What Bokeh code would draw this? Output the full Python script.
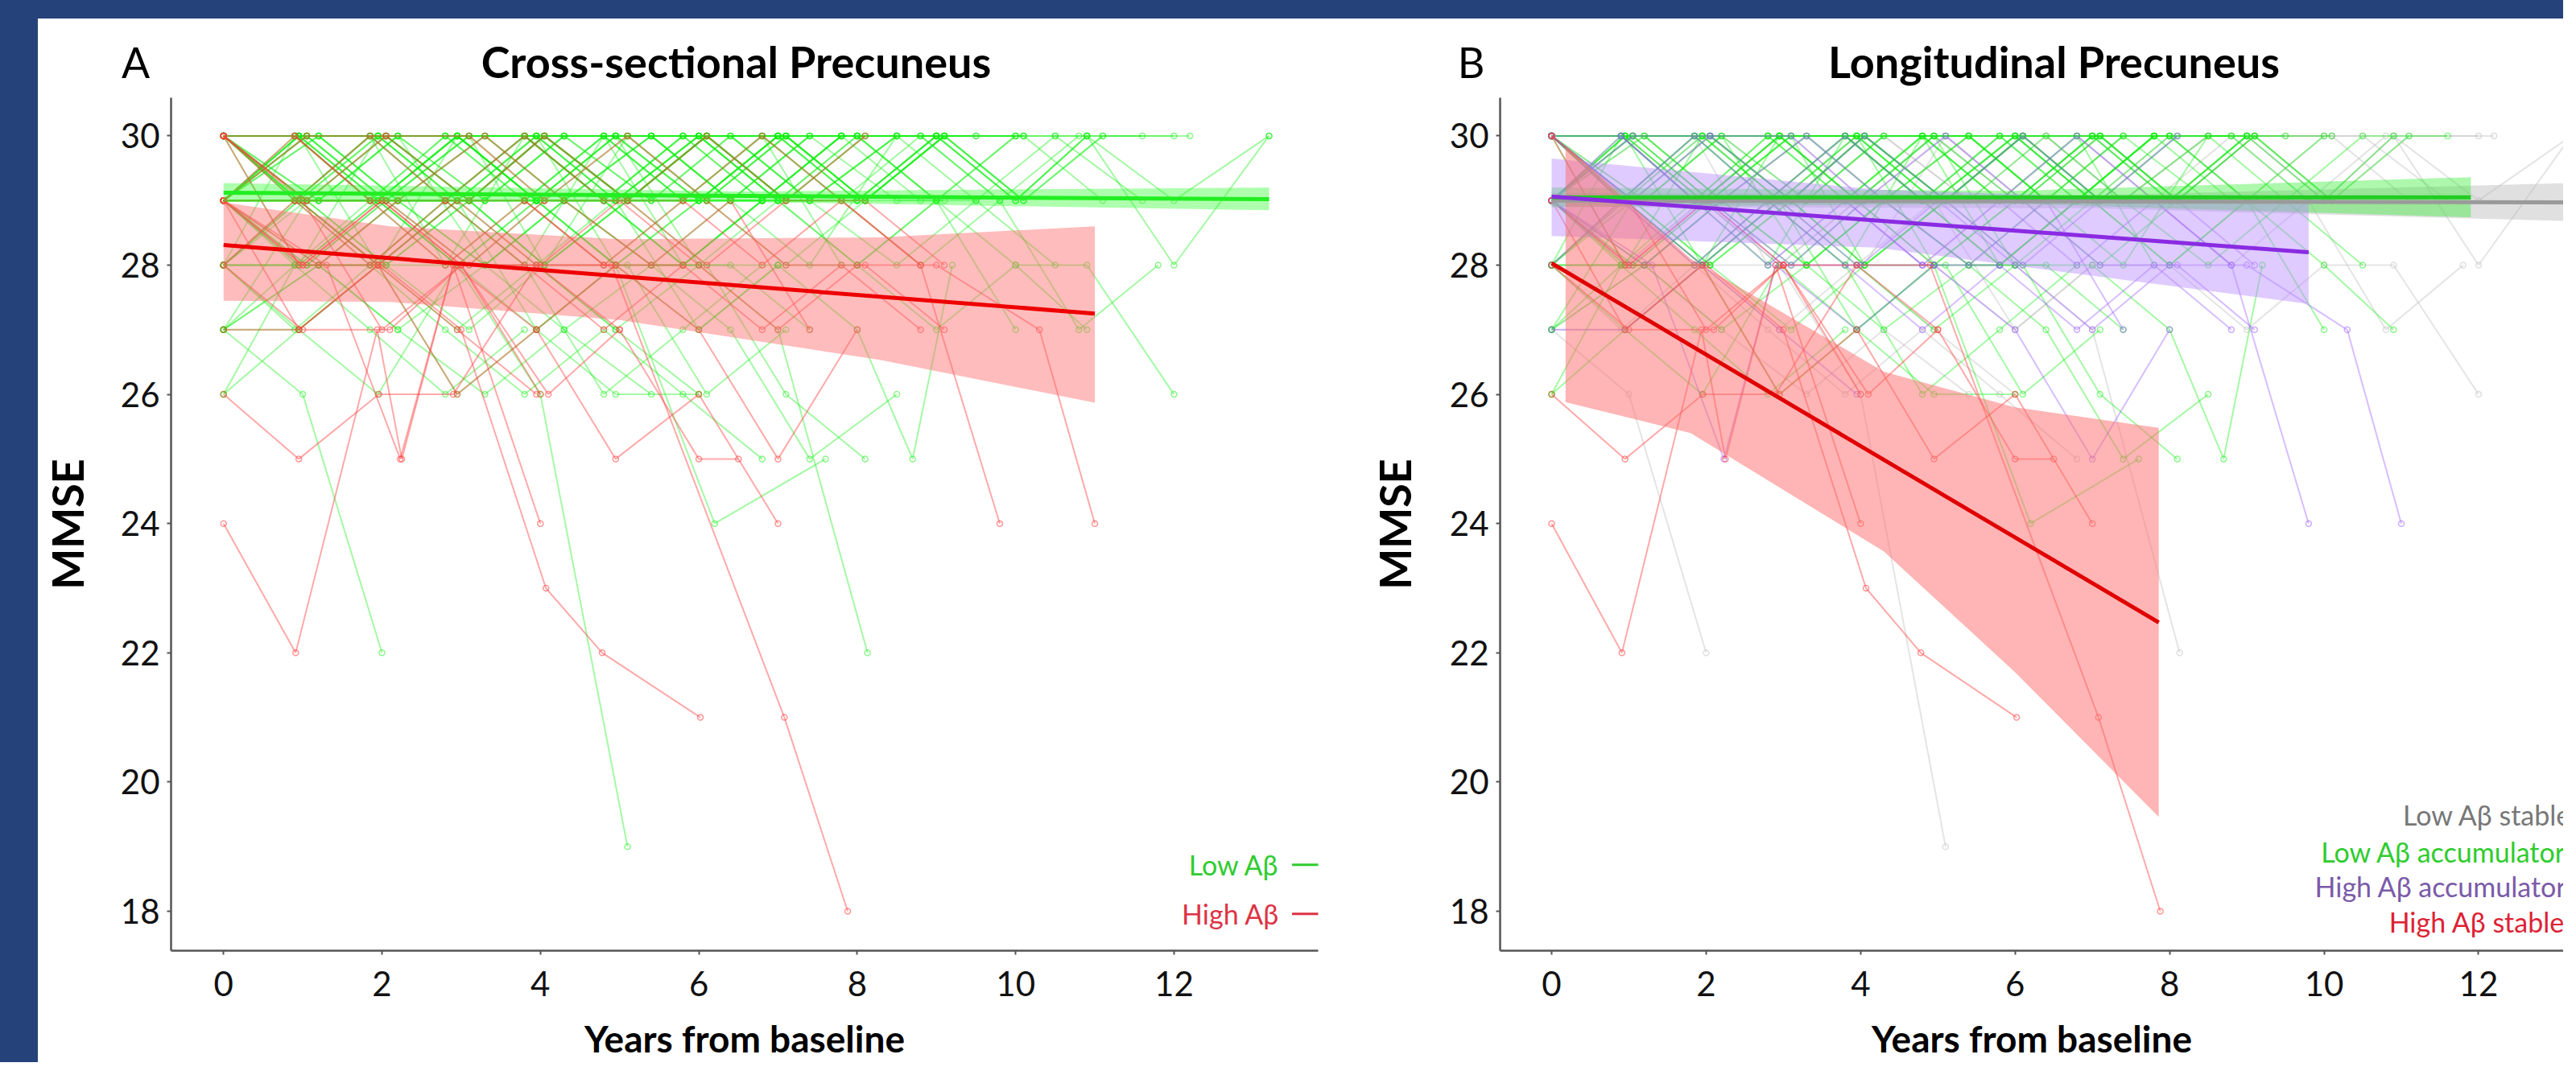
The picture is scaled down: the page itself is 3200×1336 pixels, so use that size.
from bokeh.plotting import figure
from bokeh.models import Range1d, FixedTicker, Label, Div
from bokeh.layouts import row, column
from bokeh.embed import file_html
from bokeh.resources import INLINE

# ---------------- data ----------------
# visit schedules (years from baseline)
SCHED_A = [0, 0.95, 1.95, 2.95, 3.95, 4.95, 6.0, 7.0, 8.0, 9.0, 10.0, 10.9, 12.0, 13.2]
SCHED_B = [0, 1.05, 2.05, 3.1, 4.05, 5.1, 6.1, 7.1, 8.1, 9.1, 10.1, 11.1, 12.2]
SCHED_C = [0, 0.9, 1.85, 2.8, 3.8, 4.8, 5.8, 6.8, 7.8, 8.8, 9.8, 10.8, 11.8]
SCHED_D = [0, 1.2, 2.2, 3.3, 4.3, 5.4, 6.4, 7.4, 8.5, 9.5, 10.5, 11.6, 12.6]
SCHEDULES = {"a": SCHED_A, "b": SCHED_B, "c": SCHED_C, "d": SCHED_D}

# Low Aβ accumulators: (schedule, MMSE per visit)
LOW_ACC_MMSE = [
    ("a", "30 30 29 30 29 30 30 29 30 29 30"), ("b", "29 30 30 29 30 29 29 30 29 30 29"),
    ("c", "30 29 30 30 30 29 30 30 28"), ("d", "29 28 29 30 29 28 29 29 30 29"),
    ("a", "28 29 28 29 27 28 28"), ("b", "30 30 30 29 30 30 30 29"),
    ("a", "29 30 29 30 30 29 30 29 28 29 28 27"), ("c", "26 28 27 26 27"),
    ("d", "29 29 30 29 29 30 29 28 30 30"), ("b", "30 29 29 30 30 29 30 30 29 30 30"),
    ("c", "28 30 29 29 28 30 29 29"), ("a", "29 30 30 30 29 29 30 30 30 29"),
    ("d", "30 30 29 29 30 30 29 30"), ("b", "27 29 28 27 28 28 26 27"),
    ("c", "29 29 29 30 30 30 29 29 30"), ("a", "30 28 30 29 30 28 29 30 29 30"),
    ("b", "28 28 29 28 29 29 28 26 25"), ("d", "29 30 29 29 30 30 29 30 29 29 30 30"),
    ("c", "30 30 30 30 29 30 29 30 30"), ("a", "26 27 26 28 27 26 26"),
    ("b", "29 28 28 29 28 29 30 29"), ("c", "30 29 30 29 30 29 30 29 30 30"),
    ("d", "27 28 29 28 27 28 27 25 26"), ("a", "29 30 28 29 29 28 29 29 28 29 27"),
    ("c", "28 29 29 28 30 29 28 29"), ("b", "30 30 29 30 30 29 30 29 30 30 29 30"),
    ("a", "29 29 28 30 29 30 28 29 29 30"), ("d", "30 29 30 28 29 29 30 29"),
    ("c", "29 30 30 29 29 30 30 29 30 30 29"), ("a", "30 30 30 30 30 29 29 30 30 30"),
    ("b", "28 29 30 29 28 29 29 28 29"), ("d", "29 29 29 28 29 30 29 29 28 29 28"),
    ("c", "27 28 28 29 28 26 27 28"), ("a", "30 29 29 30 30 30 29 30 29"),
    ("b", "29 30 29 30 28 29 30 30 29 29"), ("c", "30 30 29 30 29 30 28 29 30"),
    ("d", "28 28 27 28 29 28 28 27"), ("a", "29 29 30 29 30 29 30 29 29 30 29 30"),
    ("b", "30 29 28 29 30 29 29 30"), ("c", "29 28 29 29 30 29 28 29 30 29"),
]
# Low Aβ stable
LOW_STABLE_MMSE = [
    ("a", "30 30 30 29 30 30 29 30 30 30 29 30 30"), ("b", "29 30 29 29 30 29 30 29 29 30 29 30 30"),
    ("a", "28 29 28 28 29 28 27 28 28 27 28 28 26"), ("a", "30 29 30 30 29 30 30 29 30 30 29 30 28 30"),
    ("c", "29 29 30 28 29 29 28 29 29 28 29 27 28"), ("d", "30 30 29 30 29 30 30 29 30"),
    ("b", "29 28 29 29 28 30 29"), ("c", "28 27 28 27 26 27 26 25"),
    ("a", "30 29 29 30 29 30 29 30 30 29 30"), ("d", "27 28 27 26 27 26"),
    ("a", "29 30 29 30 29 29 30 30 29 30 30 30 29 30"), ("b", "30 30 30 29 29 30 30 30 29 30 30"),
    ("c", "29 29 28 29 29 28 29 30 29"), ("d", "30 29 30 30 30 29 30 29 30 30 30 29"),
    ("a", "28 28 29 28 28 29 27 28"), ("b", "29 29 30 30 29 29 30 29 30"),
    ("c", "30 30 29 29 30 29 30 30 29 30 29 30"), ("a", "27 27 28 27 28 27 26"),
    ("d", "29 30 30 29 30 29 29 30 30"), ("b", "30 29 29 29 30 30 29 30 29 30 30 29"),
]
# High Aβ accumulators
HIGH_ACC_MMSE = [
    ("c", "30 29 30 29 29 28 29 28 29 28 24"), ("a", "29 29 28 29 28 28 27 25 27"),
    ("b", "30 29 29 28 29 30 29 28 28 27"), ("c", "29 30 29 28 29 28 28"),
    ("c", "28 29 28 29 28 27 28 27 28 27"), ("a", "27 27 28 27 26"),
    ("b", "29 30 30 29 30 29 30 29 30"), ("c", "30 30 29 29 30 29 29 30 29 28"),
    ("d", "29 28 29 30 29 28 29 27"), ("b", "30 29 30 30 29 29 28 29 29 28"),
]
# subjects with their own visit times: (group, years, MMSE)
SPECIAL_SUBJECTS = [
    ("HA", [0, 1.3, 2.23, 2.9, 3.95, 4.95], [29, 28, 25, 28, 27, 28]),
    ("LS", [0, 1.0, 2.0], [27, 26, 22]),
    ("LS", [0, 0.95, 1.95, 2.95, 4.0, 5.1], [29, 28, 29, 28, 26, 19]),
    ("LS", [0, 0.95, 1.95, 2.95, 3.95, 4.95, 6.0, 7.0, 8.13], [30, 29, 29, 28, 29, 28, 28, 27, 22]),
    ("HS", [0, 0.91, 1.94, 2.25, 2.9, 4.0], [24, 22, 27, 25, 28, 24]),
    ("HS", [0, 0.95, 1.96, 2.9, 3.95, 5.0], [26, 25, 26, 26, 28, 27]),
    ("HS", [0, 0.95, 2.0, 3.0, 4.07, 4.78, 6.02], [30, 28, 28, 27, 23, 22, 21]),
    ("HS", [0, 1.0, 2.0, 3.0, 4.9, 7.08, 7.88], [29, 28, 29, 28, 28, 21, 18]),
    ("HS", [0, 1.0, 2.1, 3.0, 4.1, 5.0, 6.0, 6.5], [28, 27, 27, 28, 26, 27, 25, 25]),
    ("HS", [0, 1.0, 2.0, 3.0, 4.0], [30, 29, 27, 28, 26]),
    ("HS", [0, 0.95, 1.95, 2.95, 3.95, 4.95, 6.0, 7.0], [29, 27, 28, 26, 27, 25, 26, 24]),
    ("HA", [0, 1.0, 2.0, 3.0, 4.0, 5.0, 6.0, 7.0, 8.0, 9.0, 10.3, 11.0], [29, 28, 29, 28, 28, 29, 28, 27, 28, 28, 27, 24]),
    ("LA", [0, 0.95, 1.95, 2.95, 3.95, 4.95, 6.2, 7.6], [28, 27, 28, 26, 27, 28, 24, 25]),
    ("LA", [0, 0.95, 1.95, 2.95, 3.95, 4.95, 6.0, 7.0, 8.0, 8.7, 9.2], [29, 28, 28, 29, 28, 27, 28, 28, 27, 25, 28]),
]

# fitted trajectories and confidence bands
A_LOW_FIT_X = [0, 13.2];   A_LOW_FIT_Y = [29.12, 29.02]
A_LOW_CI_X = [0, 6.5, 13.2]; A_LOW_CI_UP = [29.27, 29.14, 29.2]; A_LOW_CI_LO = [28.98, 28.98, 28.85]
A_HIGH_FIT_X = [0, 11.0];  A_HIGH_FIT_Y = [28.31, 27.25]
A_HIGH_CI_X = [0, 2.1, 5.0, 8.3, 11.0]
A_HIGH_CI_UP = [28.97, 28.6, 28.4, 28.43, 28.6]
A_HIGH_CI_LO = [27.45, 27.43, 27.15, 26.53, 25.87]

B_LS_FIT_X = [0, 13.2];  B_LS_FIT_Y = [29.0, 28.97]
B_LS_CI_X = [0, 7.0, 13.2]; B_LS_CI_UP = [29.12, 29.08, 29.27]; B_LS_CI_LO = [28.9, 28.88, 28.68]
B_LA_FIT_X = [0, 11.9];  B_LA_FIT_Y = [29.05, 29.05]
B_LA_CI_X = [0, 6.0, 11.9]; B_LA_CI_UP = [29.2, 29.15, 29.36]; B_LA_CI_LO = [28.9, 28.95, 28.74]
B_HA_FIT_X = [0, 9.8];  B_HA_FIT_Y = [29.06, 28.2]
B_HA_CI_X = [0, 4.2, 9.8]; B_HA_CI_UP = [29.65, 29.17, 28.95]; B_HA_CI_LO = [28.45, 28.27, 27.4]
B_HS_FIT_X = [0, 7.86];  B_HS_FIT_Y = [28.03, 22.47]
B_HS_CI_X = [0.18, 1.8, 4.3, 6.0, 7.86]
B_HS_CI_UP = [29.85, 28.1, 26.35, 25.8, 25.48]
B_HS_CI_LO = [25.88, 25.4, 23.57, 21.7, 19.46]

X_TICKS = [0, 2, 4, 6, 8, 10, 12]
Y_TICKS = [18, 20, 22, 24, 26, 28, 30]

# ---------------- assemble subjects ----------------
def parse(s):
    return [float(v) for v in s.split()]

subjects = []
for grp, table in (("LA", LOW_ACC_MMSE), ("LS", LOW_STABLE_MMSE), ("HA", HIGH_ACC_MMSE)):
    for sched, s in table:
        v = parse(s)
        subjects.append((grp, SCHEDULES[sched][:len(v)], v))
for g, t, v in SPECIAL_SUBJECTS:
    subjects.append((g, t, v))

CROSS_OF = {"LS": "L", "LA": "L", "HA": "H", "HS": "H"}

NAVY = "#25427a"
FONT = "Lato"
HEAD_H = 93
FIG_H = 1204
HEAD_W = 3137
Y0, Y1 = 17.39, 30.59

GREEN = "#11ee11"
RED = "#ff4040"
PURPLE = "#9a5cff"
GRAY = "#c4c4c4"


def make_fig(width, x0, x1, mleft, mright, standoff):
    p = figure(width=width, height=FIG_H, x_range=Range1d(x0, x1), y_range=Range1d(Y0, Y1),
               output_backend="svg", toolbar_location=None,
               min_border_left=mleft, min_border_right=mright,
               min_border_top=5, min_border_bottom=134)
    p.xgrid.visible = False
    p.ygrid.visible = False
    p.outline_line_color = None
    p.background_fill_color = "white"
    p.border_fill_color = "white"
    for ax in (p.xaxis[0], p.yaxis[0]):
        ax.axis_line_color = "#555555"
        ax.axis_line_width = 2.5
        ax.major_tick_line_color = "#555555"
        ax.major_tick_line_width = 2
        ax.major_tick_out = 5
        ax.major_tick_in = 0
        ax.minor_tick_out = 0
        ax.minor_tick_in = 0
        ax.major_label_text_font = FONT
        ax.major_label_text_font_size = "42px"
        ax.major_label_text_color = "#111111"
        ax.axis_label_text_font = FONT
        ax.axis_label_text_font_style = "bold"
        ax.axis_label_text_color = "#000000"
    p.xaxis[0].ticker = FixedTicker(ticks=X_TICKS)
    p.yaxis[0].ticker = FixedTicker(ticks=Y_TICKS)
    p.xaxis[0].major_label_standoff = 20
    p.yaxis[0].major_label_standoff = 9
    p.xaxis[0].axis_label = "Years from baseline"
    p.xaxis[0].axis_label_text_font_size = "46px"
    p.xaxis[0].axis_label_standoff = 22
    p.yaxis[0].axis_label = "MMSE"
    p.yaxis[0].axis_label_text_font_size = "54px"
    p.yaxis[0].axis_label_standoff = standoff
    return p


def draw_subjects(p, subs, color, alpha):
    if not subs:
        return
    p.multi_line([s[1] for s in subs], [s[2] for s in subs],
                 line_color=color, line_alpha=alpha, line_width=2)
    px = [x for s in subs for x in s[1]]
    py = [y for s in subs for y in s[2]]
    p.scatter(px, py, marker="circle", size=7, fill_color=None,
              line_color=color, line_alpha=min(1.0, alpha + 0.1), line_width=1.5)


def add_text(p, x, y, text, color, align):
    p.add_layout(Label(x=x, y=y, text=text, text_font=FONT, text_font_size="34px",
                       text_color=color, text_align=align, text_baseline="middle"))


# ---------------- header (panel letters and titles), pixel coordinates ----------------
header = figure(width=HEAD_W, height=HEAD_H, x_range=Range1d(0, HEAD_W), y_range=Range1d(0, HEAD_H),
                x_axis_type=None, y_axis_type=None, output_backend="svg", toolbar_location=None,
                min_border_left=0, min_border_right=0, min_border_top=0, min_border_bottom=0)
header.title.visible = False
header.outline_line_color = None
header.background_fill_color = "white"
header.border_fill_color = "white"
for x, text, size, style in ((121, "A", "52px", "normal"),
                             (867, "Cross-sectional Precuneus", "54px", "bold"),
                             (1780, "B", "52px", "normal"),
                             (2504, "Longitudinal Precuneus", "54px", "bold")):
    header.add_layout(Label(x=x, y=40, text=text, text_font=FONT, text_font_size=size,
                            text_font_style=style, text_align="center",
                            text_baseline="alphabetic", text_color="#000000"))

# ---------------- Panel A ----------------
pA = make_fig(1645, -0.663, 13.82, 158, 55, 31)
draw_subjects(pA, [s for s in subjects if CROSS_OF[s[0]] == "L"], GREEN, 0.38)
draw_subjects(pA, [s for s in subjects if CROSS_OF[s[0]] == "H"], RED, 0.45)
pA.varea(x=A_LOW_CI_X, y1=A_LOW_CI_LO, y2=A_LOW_CI_UP, fill_color="#33ff33", fill_alpha=0.4)
pA.varea(x=A_HIGH_CI_X, y1=A_HIGH_CI_LO, y2=A_HIGH_CI_UP, fill_color="#ff6b6b", fill_alpha=0.45)
pA.line(A_LOW_FIT_X, A_LOW_FIT_Y, line_color="#22ee22", line_width=5)
pA.line(A_HIGH_FIT_X, A_HIGH_FIT_Y, line_color="#ee0000", line_width=5)

add_text(pA, 13.33, 18.72, "Low Aβ", "#2fcc2f", "right")
add_text(pA, 13.33, 17.96, "High Aβ", "#dd3344", "right")
pA.segment(x0=[13.49, 13.49], y0=[18.72, 17.96], x1=[13.84, 13.84], y1=[18.72, 17.96],
           line_color=["#2fcc2f", "#dd3344"], line_width=3)

# ---------------- Panel B ----------------
pB = make_fig(1492, -0.667, 13.10, 171, 0, 33)
draw_subjects(pB, [s for s in subjects if s[0] == "LS"], GRAY, 0.45)
draw_subjects(pB, [s for s in subjects if s[0] == "LA"], GREEN, 0.38)
draw_subjects(pB, [s for s in subjects if s[0] == "HA"], PURPLE, 0.4)
draw_subjects(pB, [s for s in subjects if s[0] == "HS"], RED, 0.45)
pB.varea(x=B_LS_CI_X, y1=B_LS_CI_LO, y2=B_LS_CI_UP, fill_color="#bbbbbb", fill_alpha=0.45)
pB.varea(x=B_LA_CI_X, y1=B_LA_CI_LO, y2=B_LA_CI_UP, fill_color="#33ee33", fill_alpha=0.4)
pB.varea(x=B_HA_CI_X, y1=B_HA_CI_LO, y2=B_HA_CI_UP, fill_color="#b98cff", fill_alpha=0.45)
pB.varea(x=B_HS_CI_X, y1=B_HS_CI_LO, y2=B_HS_CI_UP, fill_color="#ff6b6b", fill_alpha=0.5)
pB.line(B_LS_FIT_X, B_LS_FIT_Y, line_color="#9a9a9a", line_width=5)
pB.line(B_LA_FIT_X, B_LA_FIT_Y, line_color="#22cc22", line_width=5)
pB.line(B_HA_FIT_X, B_HA_FIT_Y, line_color="#8a2be2", line_width=5)
pB.line(B_HS_FIT_X, B_HS_FIT_Y, line_color="#e00000", line_width=5)

add_text(pB, 11.02, 19.50, "Low Aβ stable", "#777777", "left")
add_text(pB, 9.96, 18.92, "Low Aβ accumulator", "#2fcc2f", "left")
add_text(pB, 9.88, 18.39, "High Aβ accumulator", "#7a5aa8", "left")
add_text(pB, 10.84, 17.84, "High Aβ  stable", "#dd2233", "left")

# ---------------- layout ----------------
top_band = Div(text="", width=3184, height=23, margin=0, styles={"background-color": NAVY})
left_band = Div(text="", width=47, height=HEAD_H + FIG_H, margin=0, styles={"background-color": NAVY})
layout = column(top_band,
                row(left_band, column(header, row(pA, pB, spacing=0), spacing=0), spacing=0),
                spacing=0)

open("out.html", "w").write(file_html(layout, INLINE))
